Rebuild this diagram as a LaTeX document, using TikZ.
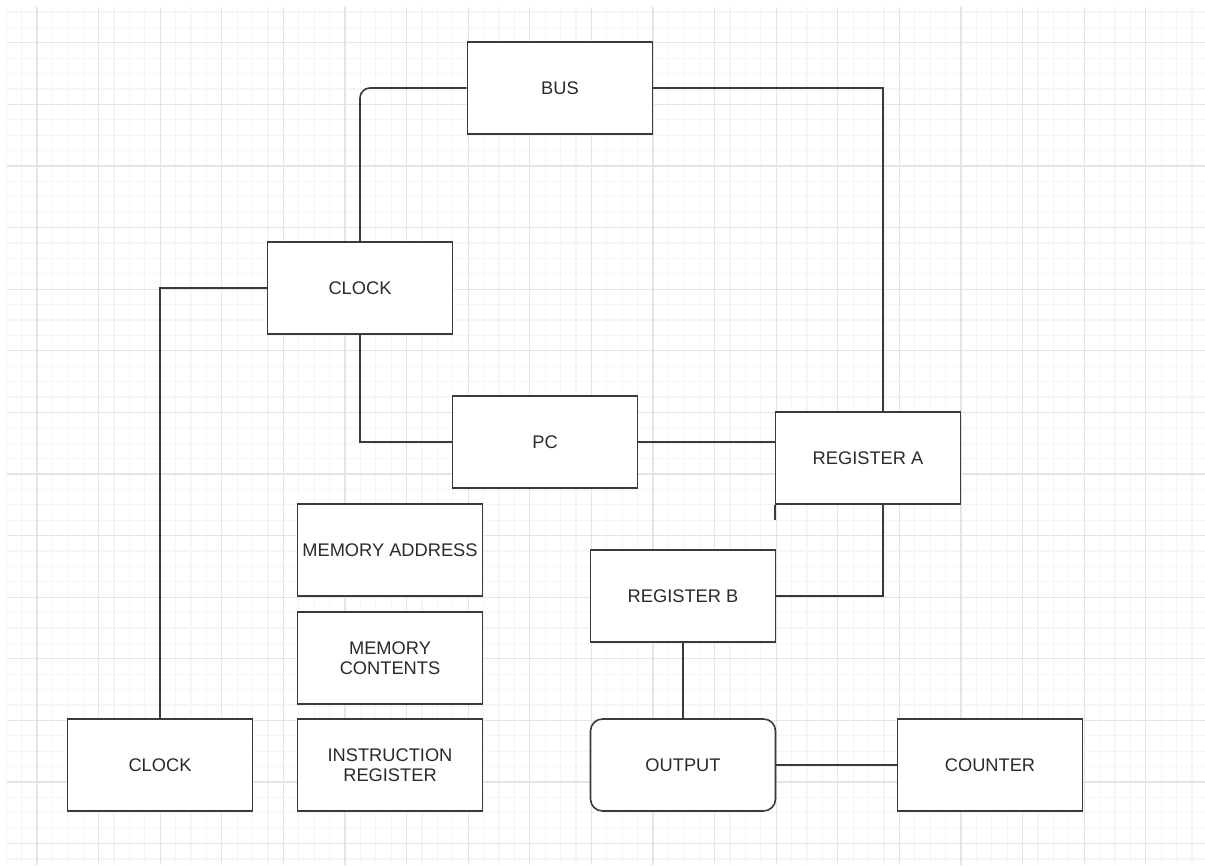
\documentclass[tikz,border=0pt]{standalone}
\usepackage{fontspec}
\setmainfont{Liberation Sans}
\usetikzlibrary{calc}

\definecolor{linegray}{HTML}{3A3A3A}
\definecolor{textgray}{HTML}{2A2A2A}
\definecolor{minorgrid}{HTML}{F5F5F5}
\definecolor{majorgrid}{HTML}{E4E4E4}

\begin{document}
\begin{tikzpicture}[x=0.75pt,y=-0.75pt,
		block/.style={draw=linegray,line width=1.2pt,fill=white,minimum width=138.75pt,minimum height=69pt,inner sep=1pt,align=center,text=textgray,font=\fontsize{13.7}{15}\selectfont},
		wire/.style={draw=linegray,line width=1.2pt}]
		\useasboundingbox (0,0) rectangle (1205,865);
		\fill[white] (0,0) rectangle (1205,865);
		
		% grid
		\foreach \i in {0,...,77} \draw[minorgrid,line width=0.9pt] ({6.2+15.4*\i},7) -- ({6.2+15.4*\i},865);
		\foreach \j in {0,...,55} \draw[minorgrid,line width=0.9pt] (7,{11.9+15.4*\j}) -- (1205,{11.9+15.4*\j});
		\foreach \i in {0,...,19} \draw[majorgrid,line width=0.9pt] ({37+61.6*\i},7) -- ({37+61.6*\i},865);
		\foreach \j in {0,...,13} \draw[majorgrid,line width=0.9pt] (7,{42.7+61.6*\j}) -- (1205,{42.7+61.6*\j});
		
		% blocks
		\node[block] (bus) at (560,88) {BUS};
		\node[block] (clk) at (360,288) {CLOCK};
		\node[block] (pc) at (545,442) {PC};
		\node[block] (rega) at (868,458) {REGISTER A};
		\node[block] (regb) at (683,596) {REGISTER B};
		\node[block] (maddr) at (390,550) {MEMORY ADDRESS};
		\node[block] (mcont) at (390,658) {MEMORY\\CONTENTS};
		\node[block] (ir) at (390,765) {INSTRUCTION\\REGISTER};
		\node[block] (clkb) at (160,765) {CLOCK};
		\node[block,rounded corners=9pt] (out) at (683,765) {OUTPUT};
		\node[block] (cnt) at (990,765) {COUNTER};
		
		% connectors
		\coordinate (regatop) at ($(rega.north)+(15,0)$);
		\coordinate (regabot) at ($(rega.south)+(15,0)$);
		\coordinate (regain) at (rega.west |- pc.east);
		\coordinate (stub) at ($(rega.south west)+(0,15)$);
		\draw[wire,rounded corners=7.5pt] (bus.west) -| (clk.north);
		\draw[wire] (bus.east) -| (regatop);
		\draw[wire] (clk.west) -| (clkb.north);
		\draw[wire] (clk.south) |- (pc.west);
		\draw[wire] (pc.east) -- (regain);
		\draw[wire] (rega.south west) -- (stub);
		\draw[wire] (regabot) |- (regb.east);
		\draw[wire] (regb.south) -- (out.north);
		\draw[wire] (out.east) -- (cnt.west);
\end{tikzpicture}
\end{document}
